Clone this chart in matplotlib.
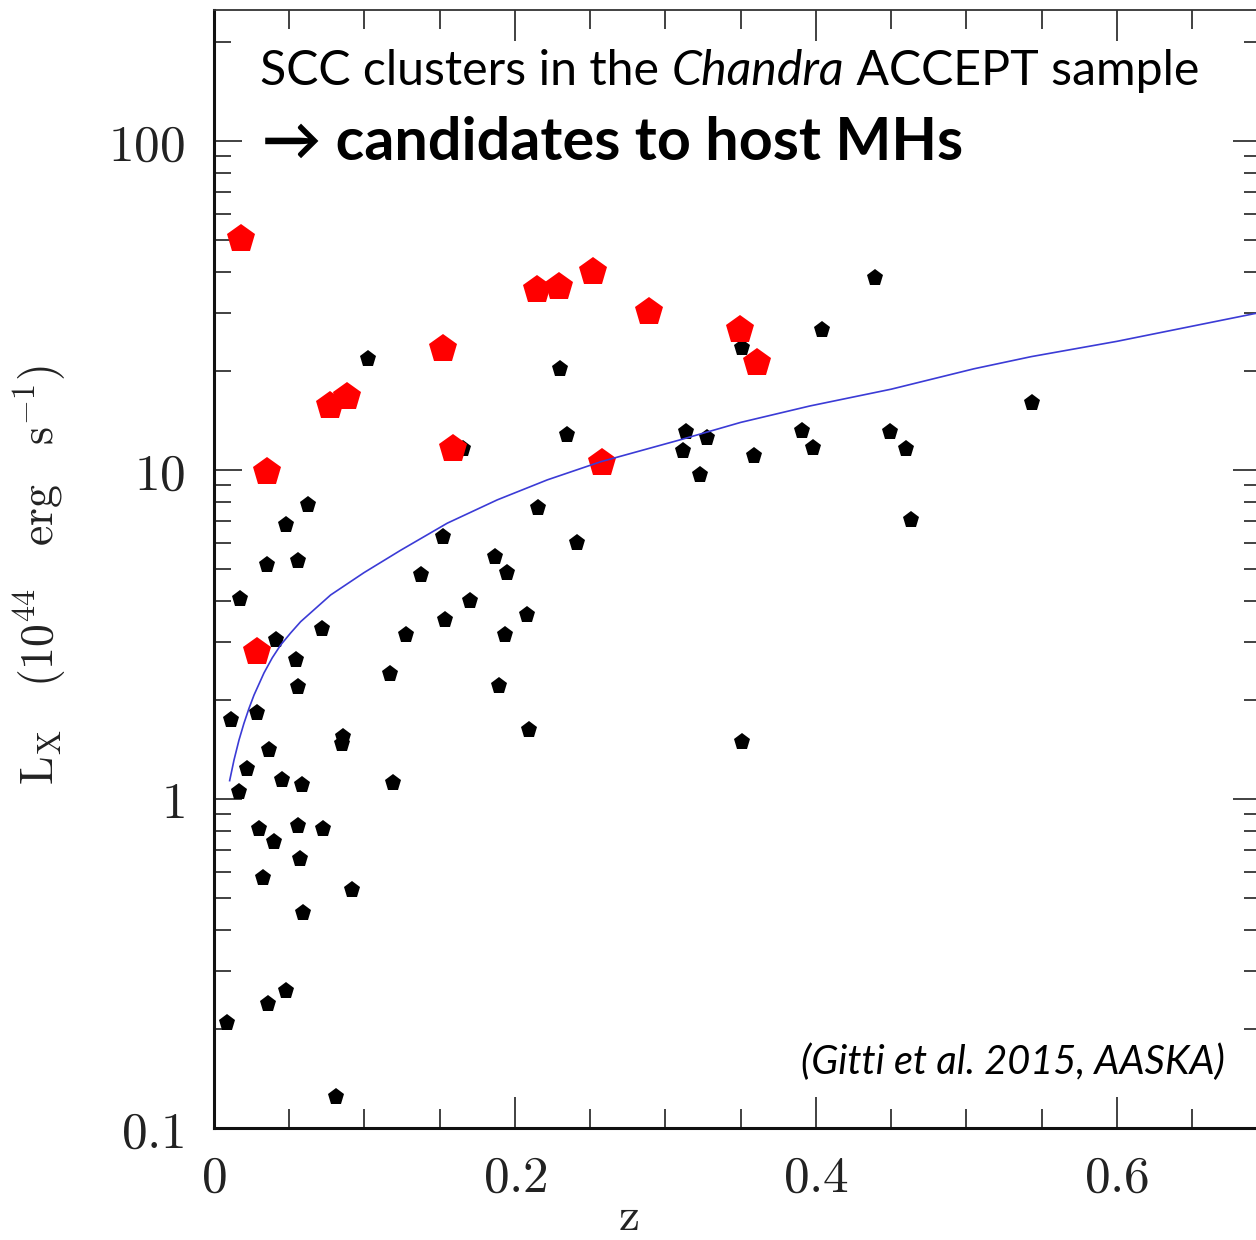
import matplotlib
matplotlib.use("Agg")
import matplotlib.pyplot as plt
from matplotlib.ticker import FixedLocator, FuncFormatter, MultipleLocator, LogLocator, NullFormatter

plt.rcParams['mathtext.fontset'] = 'cm'

# ---- data ----
z_black = [0.1025, 0.2299, 0.4392, 0.4043, 0.3510, 0.5435, 0.1657, 0.2348, 0.3134, 0.3118,
           0.3274, 0.3229, 0.3591, 0.3904, 0.3983, 0.4490, 0.4600, 0.4633, 0.0623, 0.0478,
           0.0354, 0.0556, 0.0173, 0.0412, 0.0545, 0.0560, 0.0720, 0.2155, 0.2415, 0.1524,
           0.1867, 0.1945, 0.1373, 0.1704, 0.2078, 0.1538, 0.1934, 0.1274, 0.1169, 0.1896,
           0.2095, 0.0111, 0.0288, 0.0859, 0.0853, 0.0365, 0.0221, 0.0450, 0.0583, 0.0168,
           0.1187, 0.0301, 0.0556, 0.0726, 0.0399, 0.0571, 0.0328, 0.0915, 0.0589, 0.0476,
           0.0357, 0.0088, 0.0809, 0.3508]
L_black = [21.7, 20.2, 38.3, 26.7, 23.4, 16.0, 11.6, 12.8, 13.0, 11.45,
           12.5, 9.62, 11.0, 13.15, 11.7, 13.07, 11.58, 7.05, 7.83, 6.80,
           5.14, 5.30, 4.06, 3.04, 2.65, 2.19, 3.29, 7.68, 5.99, 6.27,
           5.42, 4.85, 4.79, 4.00, 3.62, 3.50, 3.15, 3.16, 2.39, 2.21,
           1.62, 1.74, 1.82, 1.54, 1.47, 1.41, 1.23, 1.14, 1.10, 1.05,
           1.12, 0.811, 0.83, 0.811, 0.739, 0.657, 0.574, 0.529, 0.451, 0.26,
           0.238, 0.209, 0.1245, 1.49]

z_red = [0.0181, 0.0350, 0.0284, 0.0771, 0.0884, 0.1520, 0.1590, 0.2144, 0.2294, 0.2516,
         0.2892, 0.3495, 0.3610, 0.2576]
L_red = [50.5, 9.88, 2.80, 15.65, 16.67, 23.3, 11.56, 35.3, 35.9, 40.1,
         30.1, 26.6, 21.2, 10.48]

z_curve = [0.0104, 0.0133, 0.0166, 0.0199, 0.0233, 0.0266, 0.0332, 0.0387, 0.0443, 0.0510,
           0.0576, 0.0775, 0.0997, 0.1240, 0.1550, 0.1882, 0.2215, 0.2569, 0.3101, 0.3500,
           0.3960, 0.4500, 0.5050, 0.5430, 0.6000, 0.6920]
L_curve = [1.137, 1.314, 1.510, 1.698, 1.888, 2.070, 2.415, 2.685, 2.938, 3.199,
           3.459, 4.169, 4.875, 5.70, 6.89, 8.11, 9.33, 10.59, 12.36, 13.95,
           15.65, 17.6, 20.3, 22.1, 24.6, 29.9]

x_major = [0, 0.2, 0.4, 0.6]
y_major = [0.1, 1, 10, 100]

title1 = "SCC clusters in the "
title1_it = "Chandra"
title1_end = " ACCEPT sample"
title2 = "\u2192 candidates to host MHs"
citation = "(Gitti et al. 2015, AASKA)"
ylabel = r'$\mathrm{L_X\ \ \ (10^{44}\ \ \ erg\ \ \ s^{-1})}$'
xlabel = r'$\mathrm{z}$'

# ---- figure ----
W, H = 1256, 1240
fig = plt.figure(figsize=(W / 100, H / 100), dpi=100)
ax = fig.add_axes([214 / W, (H - 1128) / H, 1047 / W, 1118 / H])

ax.set_yscale('log')
ax.set_xlim(0, 0.6957)
ax.set_ylim(0.1, 250)

ax.plot(z_black, L_black, linestyle='none', marker='p', markersize=12.8,
        color='black', markeredgewidth=0, zorder=3)
ax.plot(z_red, L_red, linestyle='none', marker='p', markersize=21.5,
        color='#ff0000', markeredgewidth=0, zorder=4)
ax.plot(z_curve, L_curve, color='#3b3bd6', linewidth=1.2, zorder=5)

# ticks
ax.xaxis.set_major_locator(FixedLocator(x_major))
ax.xaxis.set_minor_locator(MultipleLocator(0.05))
ax.yaxis.set_major_locator(FixedLocator(y_major))
ax.yaxis.set_minor_locator(LogLocator(base=10, subs=range(2, 10)))
ax.yaxis.set_minor_formatter(NullFormatter())

def fmt(v, pos):
    if v == 0:
        s = '0'
    elif v >= 1:
        s = '%d' % v
    else:
        s = ('%g' % v)
    return r'$' + s + '$'

ax.xaxis.set_major_formatter(FuncFormatter(fmt))
ax.yaxis.set_major_formatter(FuncFormatter(fmt))

ax.tick_params(axis='both', which='both', direction='in', top=True, right=True,
               color='#333333', width=1.3)
ax.tick_params(axis='x', which='major', length=22, pad=18, labelsize=37)
ax.tick_params(axis='x', which='minor', length=14)
ax.tick_params(axis='y', which='major', length=20, pad=21, labelsize=37)
ax.tick_params(axis='y', which='minor', length=12)
for lab in ax.get_xticklabels() + ax.get_yticklabels():
    lab.set_color('#222222')

for sp in ['left', 'bottom']:
    ax.spines[sp].set_linewidth(2.2)
    ax.spines[sp].set_color('#111111')
for sp in ['top', 'right']:
    ax.spines[sp].set_linewidth(1.3)
    ax.spines[sp].set_color('#333333')

fig.canvas.draw()
r = fig.canvas.get_renderer()


def fit(t, target, vertical=False):
    bb = t.get_window_extent(r)
    size = bb.height if vertical else bb.width
    t.set_fontsize(t.get_fontsize() * target / size)


# axis labels
xl = fig.text(628 / W, 1 - 1218 / H, xlabel, fontsize=34, ha='center', va='center',
              color='#222222')
yl = fig.text(40 / W, 1 - 575 / H, ylabel, fontsize=34, rotation=90,
              ha='center', va='center', color='#222222')
fit(yl, 420, vertical=True)

# annotations
fam = ['Lato', 'DejaVu Sans']
base1 = 1 - 85 / H
t1 = fig.text(260 / W, base1, title1, fontsize=30, family=fam, color='black')
t2 = fig.text(0, base1, title1_it, fontsize=30, family=fam, style='italic', color='black')
t3 = fig.text(0, base1, title1_end, fontsize=30, family=fam, color='black')
total = sum(t.get_window_extent(r).width for t in (t1, t2, t3))
scale = 938 / total
for t in (t1, t2, t3):
    t.set_fontsize(30 * scale)
x = 260
for t in (t1, t2, t3):
    t.set_x(x / W)
    x += t.get_window_extent(r).width

t4 = fig.text(262 / W, 1 - 160 / H, title2, fontsize=40, family=fam,
              weight='bold', color='black')
fit(t4, 700)
t5 = fig.text(1225 / W, 1 - 1074 / H, citation, fontsize=26, family=fam,
              style='italic', color='black', ha='right')
fit(t5, 425)

fig.savefig('out.png', dpi=100)
